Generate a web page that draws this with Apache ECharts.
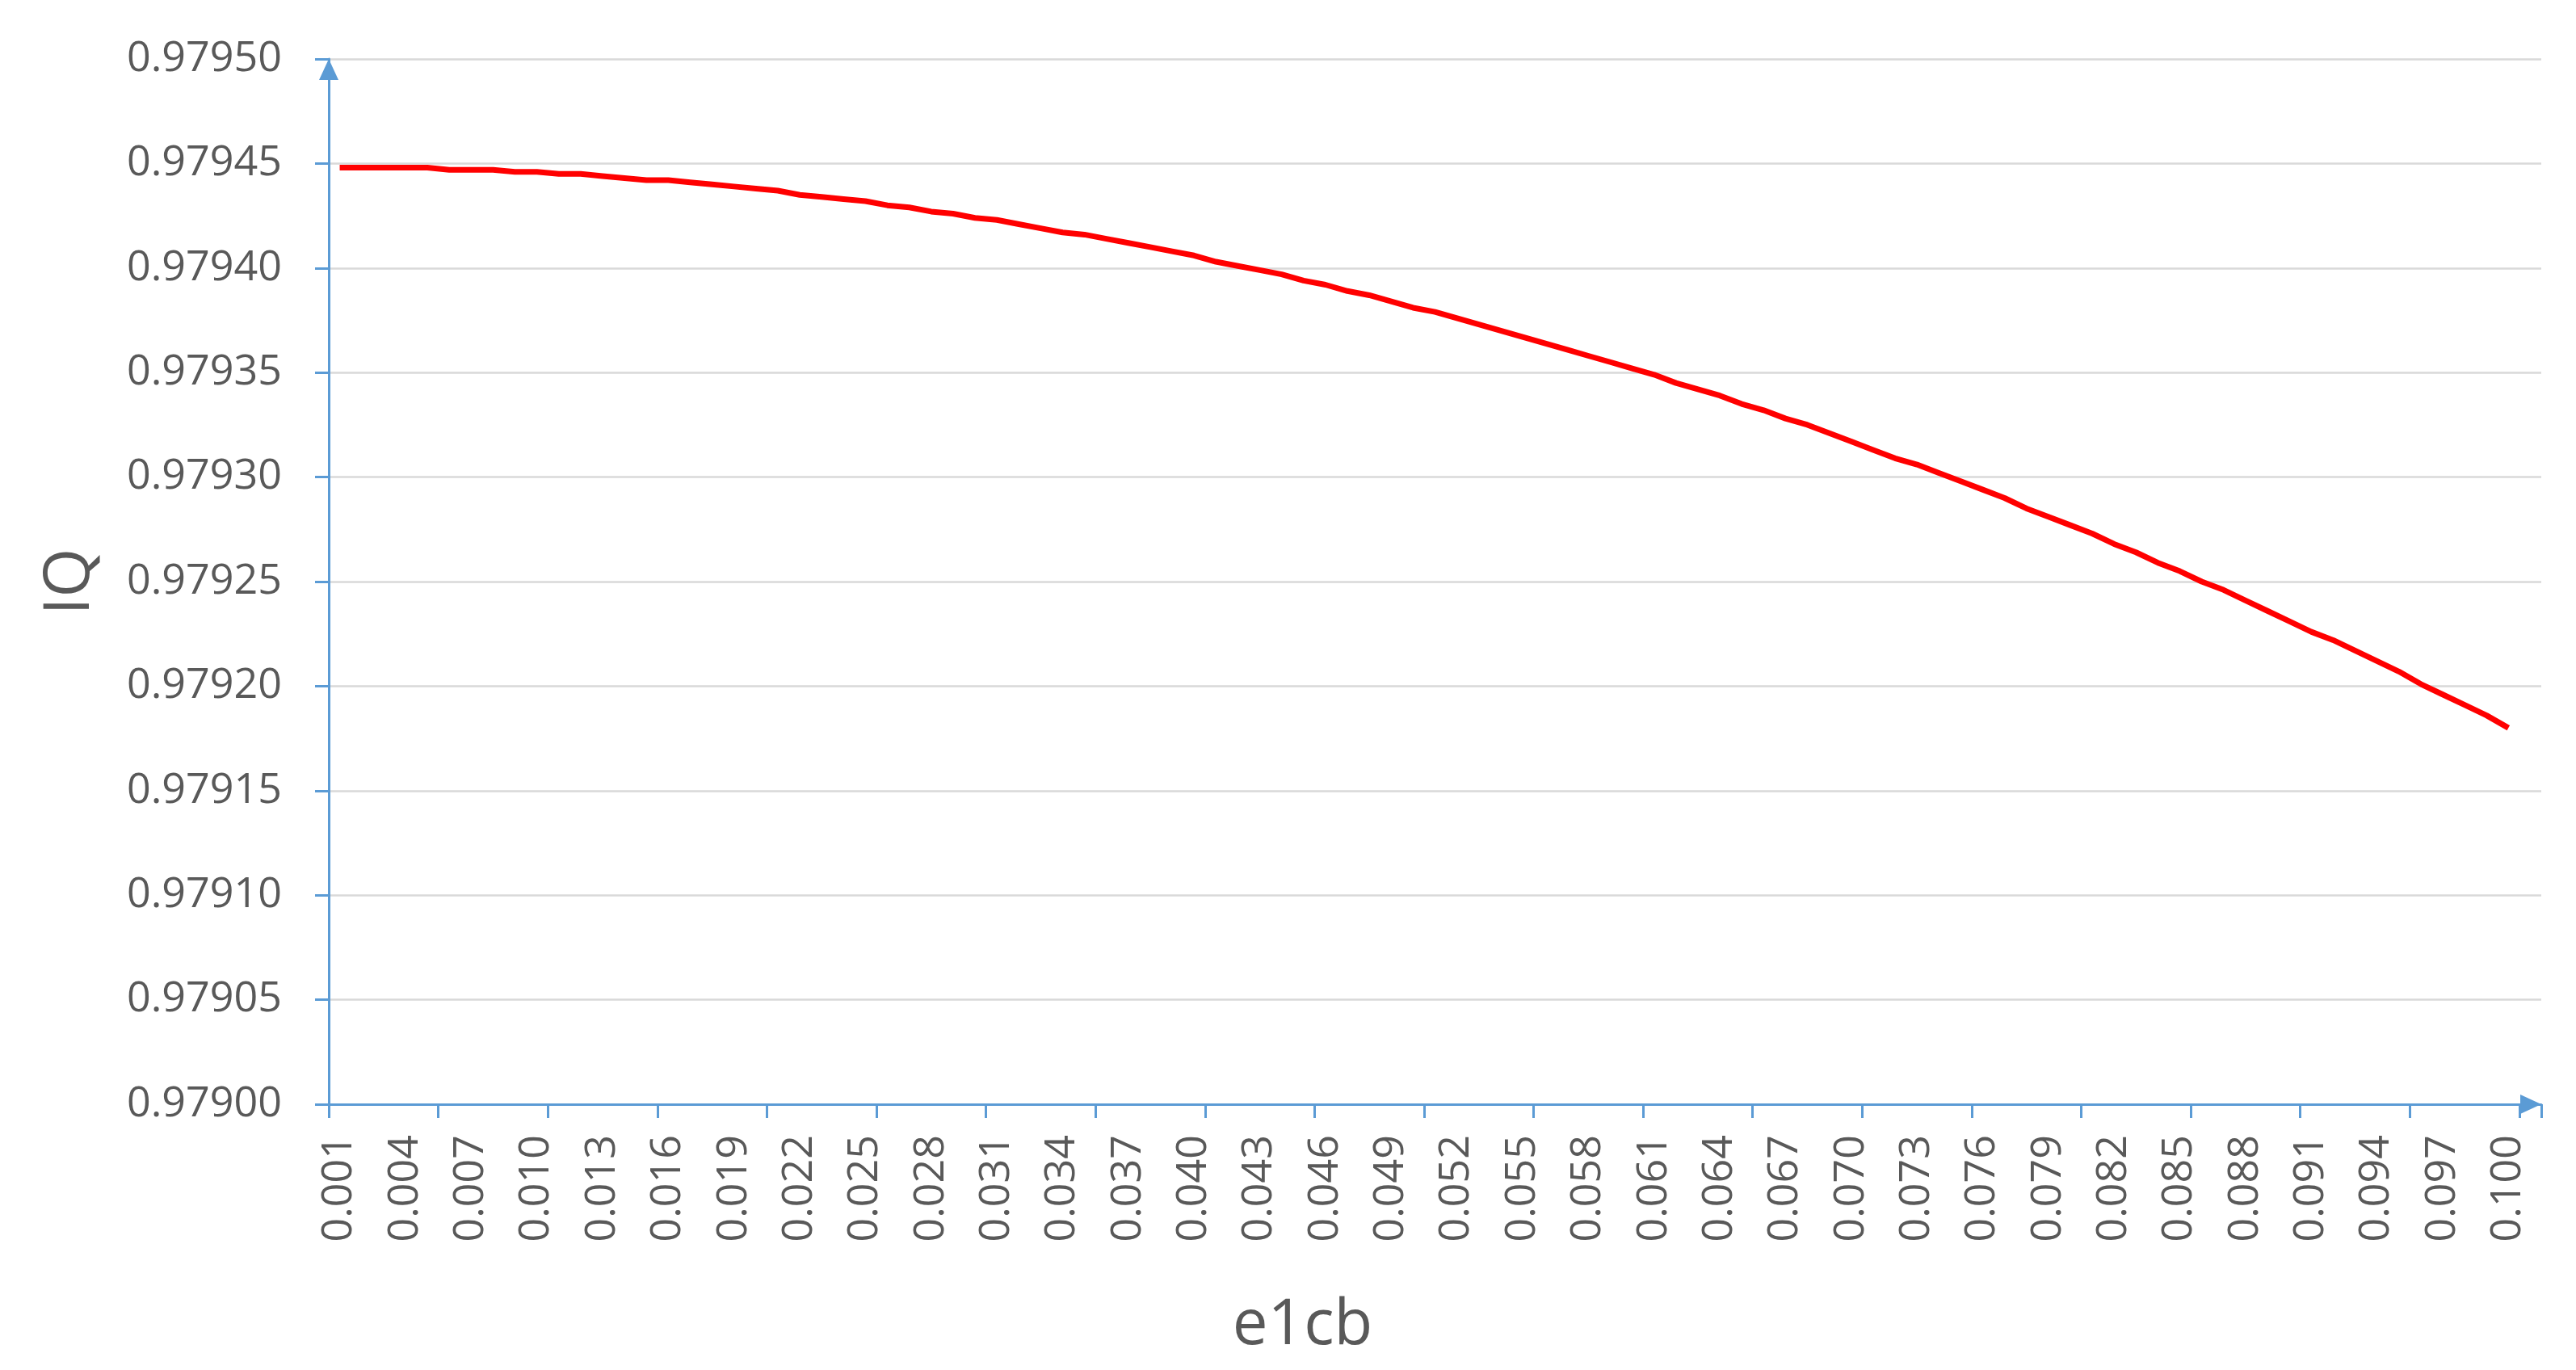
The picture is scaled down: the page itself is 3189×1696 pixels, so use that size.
<!DOCTYPE html>
<html>
<head>
<meta charset="utf-8">
<script src="https://cdn.jsdelivr.net/npm/echarts@6/dist/echarts.min.js"></script>
<style>
  html, body { margin: 0; padding: 0; background: #ffffff; }
  #chart { width: 3189px; height: 1696px; }
</style>
</head>
<body>
<div id="chart"></div>
<script>
// e1cb categories (last empty slot as in the source chart's axis)
const categories = [
  '0.001','0.002','0.003','0.004','0.005','0.006','0.007','0.008','0.009','0.010',
  '0.011','0.012','0.013','0.014','0.015','0.016','0.017','0.018','0.019','0.020',
  '0.021','0.022','0.023','0.024','0.025','0.026','0.027','0.028','0.029','0.030',
  '0.031','0.032','0.033','0.034','0.035','0.036','0.037','0.038','0.039','0.040',
  '0.041','0.042','0.043','0.044','0.045','0.046','0.047','0.048','0.049','0.050',
  '0.051','0.052','0.053','0.054','0.055','0.056','0.057','0.058','0.059','0.060',
  '0.061','0.062','0.063','0.064','0.065','0.066','0.067','0.068','0.069','0.070',
  '0.071','0.072','0.073','0.074','0.075','0.076','0.077','0.078','0.079','0.080',
  '0.081','0.082','0.083','0.084','0.085','0.086','0.087','0.088','0.089','0.090',
  '0.091','0.092','0.093','0.094','0.095','0.096','0.097','0.098','0.099','0.100',
  ''
];

// IQ values
const iqValues = [
  0.979448,0.979448,0.979448,0.979448,0.979448,0.979447,0.979447,0.979447,0.979446,0.979446,
  0.979445,0.979445,0.979444,0.979443,0.979442,0.979442,0.979441,0.979440,0.979439,0.979438,
  0.979437,0.979435,0.979434,0.979433,0.979432,0.979430,0.979429,0.979427,0.979426,0.979424,
  0.979423,0.979421,0.979419,0.979417,0.979416,0.979414,0.979412,0.979410,0.979408,0.979406,
  0.979403,0.979401,0.979399,0.979397,0.979394,0.979392,0.979389,0.979387,0.979384,0.979381,
  0.979379,0.979376,0.979373,0.979370,0.979367,0.979364,0.979361,0.979358,0.979355,0.979352,
  0.979349,0.979345,0.979342,0.979339,0.979335,0.979332,0.979328,0.979325,0.979321,0.979317,
  0.979313,0.979309,0.979306,0.979302,0.979298,0.979294,0.979290,0.979285,0.979281,0.979277,
  0.979273,0.979268,0.979264,0.979259,0.979255,0.979250,0.979246,0.979241,0.979236,0.979231,
  0.979226,0.979222,0.979217,0.979212,0.979207,0.979201,0.979196,0.979191,0.979186,0.979180
];

const yMin = 0.97900;
const yMax = 0.97950;
const yStep = 0.00005;
const xTitle = 'e1cb';
const yTitle = 'IQ';

const axisBlue = '#5B9BD5';
const textGray = '#595959';
const fontFam = "'Open Sans', 'Noto Sans', 'Liberation Sans', sans-serif";

const chart = echarts.init(document.getElementById('chart'), null, { renderer: 'canvas' });
chart.setOption({
  animation: false,
  backgroundColor: '#ffffff',
  grid: { left: 407, right: 43, top: 73, bottom: 329, containLabel: false },
  xAxis: {
    type: 'category',
    data: categories,
    boundaryGap: true,
    name: xTitle,
    nameLocation: 'middle',
    nameGap: 236,
    nameTextStyle: { fontFamily: fontFam, fontSize: 78, color: textGray, padding: [0, 328, 0, 0] },
    axisLine: {
      show: true,
      symbol: ['none', 'triangle'],
      symbolSize: [24, 26],
      symbolOffset: [0, -13],
      lineStyle: { color: axisBlue, width: 3 }
    },
    axisTick: { show: true, interval: 4, length: 17, lineStyle: { color: axisBlue, width: 3 } },
    axisLabel: {
      interval: 2,
      rotate: 90,
      margin: 38,
      fontFamily: fontFam,
      fontSize: 52,
      color: textGray
    },
    splitLine: { show: false }
  },
  yAxis: {
    type: 'value',
    min: yMin,
    max: yMax,
    interval: yStep,
    name: yTitle,
    nameLocation: 'middle',
    nameRotate: 90,
    nameGap: 280,
    nameTextStyle: { fontFamily: fontFam, fontSize: 78, color: textGray },
    axisLine: {
      show: true,
      symbol: ['none', 'triangle'],
      symbolSize: [24, 26],
      symbolOffset: [0, -13],
      lineStyle: { color: axisBlue, width: 3 }
    },
    axisTick: { show: true, length: 17, lineStyle: { color: axisBlue, width: 3 } },
    axisLabel: {
      margin: 58,
      fontFamily: fontFam,
      fontSize: 52,
      color: textGray,
      formatter: function (v) { return v.toFixed(5); }
    },
    splitLine: { show: true, lineStyle: { color: '#D9D9D9', width: 2.5 } }
  },
  series: [{
    type: 'line',
    data: iqValues,
    showSymbol: false,
    symbol: 'none',
    smooth: false,
    lineStyle: { color: '#FF0000', width: 7 },
    itemStyle: { color: '#FF0000' }
  }]
});
</script>
</body>
</html>
